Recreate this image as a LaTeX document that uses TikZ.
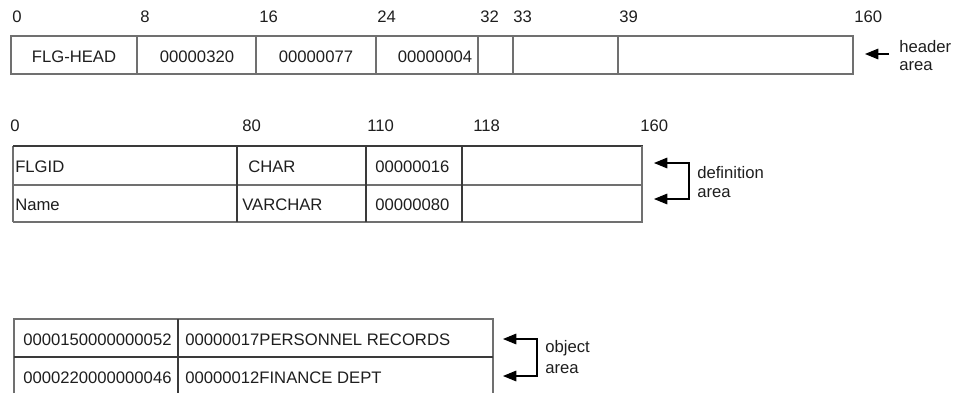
\documentclass[tikz,border=0pt]{standalone}
\usepackage{fontspec}
\setmainfont{Liberation Sans}
\usetikzlibrary{arrows.meta}
\definecolor{frame}{HTML}{707070}
\definecolor{divider}{HTML}{3A3A3A}
\definecolor{txt}{HTML}{1E1E1E}
\begin{document}
\begin{tikzpicture}[x=0.75pt,y=-0.75pt,
  lbl/.style={anchor=base west,inner sep=0pt,text=txt,font=\fontsize{12.5}{14}\selectfont},
  ctext/.style={anchor=base,inner sep=0pt,text=txt,font=\fontsize{12.5}{14}\selectfont},
  frm/.style={draw=frame,line width=0.8pt},
  dvd/.style={draw=divider,line width=0.8pt},
  arr/.style={-{Triangle[length=10pt,width=8pt]},line width=0.8pt},
  barr/.style={{Triangle[length=10pt,width=8pt]}-{Triangle[length=10pt,width=8pt]},line width=0.8pt}]
\useasboundingbox (0,0) rectangle (964,393);
% ---------- header area ----------
\draw[frm] (11,36) rectangle (853,74);
\foreach \x in {137,256,376,478,513,618} \draw[frm] (\x,36) -- (\x,74);
\node[lbl] (h0) at (12,22) {0};
\node[lbl] (h8) at (140,22) {8};
\node[lbl] (h16) at (259,22) {16};
\node[lbl] (h24) at (377,22) {24};
\node[lbl] (h32) at (480,22) {32};
\node[lbl] (h33) at (513,22) {33};
\node[lbl] (h39) at (619,22) {39};
\node[lbl] (h160) at (854,22) {160};
\node[ctext] (flghead) at (74,62) {FLG-HEAD};
\node[ctext] (c320) at (197,62) {00000320};
\node[ctext] (c077) at (316,62) {00000077};
\node[ctext] (c004) at (435,62) {00000004};
\coordinate (htip) at (865,54);
\coordinate (htail) at (889,54);
\draw[arr] (htail) -- (htip);
\node[lbl] (hdr1) at (899,52) {header};
\node[lbl] (hdr2) at (899,70) {area};
% ---------- definition area ----------
\draw[frm] (13,222) -- (13,146);
\draw[dvd] (13,146) -- (643,146);
\draw[frm] (642,146) -- (642,222) -- (13,222);
\draw[frm] (13,185) -- (642,185);
\foreach \x in {237,366,462} \draw[dvd] (\x,146) -- (\x,222);
\node[lbl] (d0) at (10,131) {0};
\node[lbl] (d80) at (242,131) {80};
\node[lbl] (d110) at (367,131) {110};
\node[lbl] (d118) at (473,131) {118};
\node[lbl] (d160) at (640,131) {160};
\node[lbl] (flgid) at (15,172) {FLGID};
\node[lbl] (char) at (248,172) {CHAR};
\node[lbl] (c016) at (375,172) {00000016};
\node[lbl] (name) at (15,210) {Name};
\node[lbl] (varchar) at (242,210) {VARCHAR};
\node[lbl] (c080) at (375,210) {00000080};
\coordinate (dtip1) at (654,163);
\coordinate (dtip2) at (654,199);
\coordinate (dc1) at (689,163);
\coordinate (dc2) at (689,199);
\draw[barr] (dtip1) -- (dc1) -- (dc2) -- (dtip2);
\node[lbl] (def1) at (697,178) {definition};
\node[lbl] (def2) at (697,197) {area};
% ---------- object area ----------
\draw[frm] (14,393) -- (14,319) -- (493,319) -- (493,393);
\draw[dvd] (14,357) -- (493,357);
\draw[dvd] (178,319) -- (178,393);
\node[lbl] (o1) at (23,345) {0000150000000052};
\node[lbl] (o1b) at (185,345) {00000017PERSONNEL RECORDS};
\node[lbl] (o2) at (23,383) {0000220000000046};
\node[lbl] (o2b) at (185,383) {00000012FINANCE DEPT};
\coordinate (otip1) at (503,339);
\coordinate (otip2) at (503,376);
\coordinate (oc1) at (537,339);
\coordinate (oc2) at (537,376);
\draw[barr] (otip1) -- (oc1) -- (oc2) -- (otip2);
\node[lbl] (obj1) at (545,352) {object};
\node[lbl] (obj2) at (545,373) {area};
\end{tikzpicture}
\end{document}
